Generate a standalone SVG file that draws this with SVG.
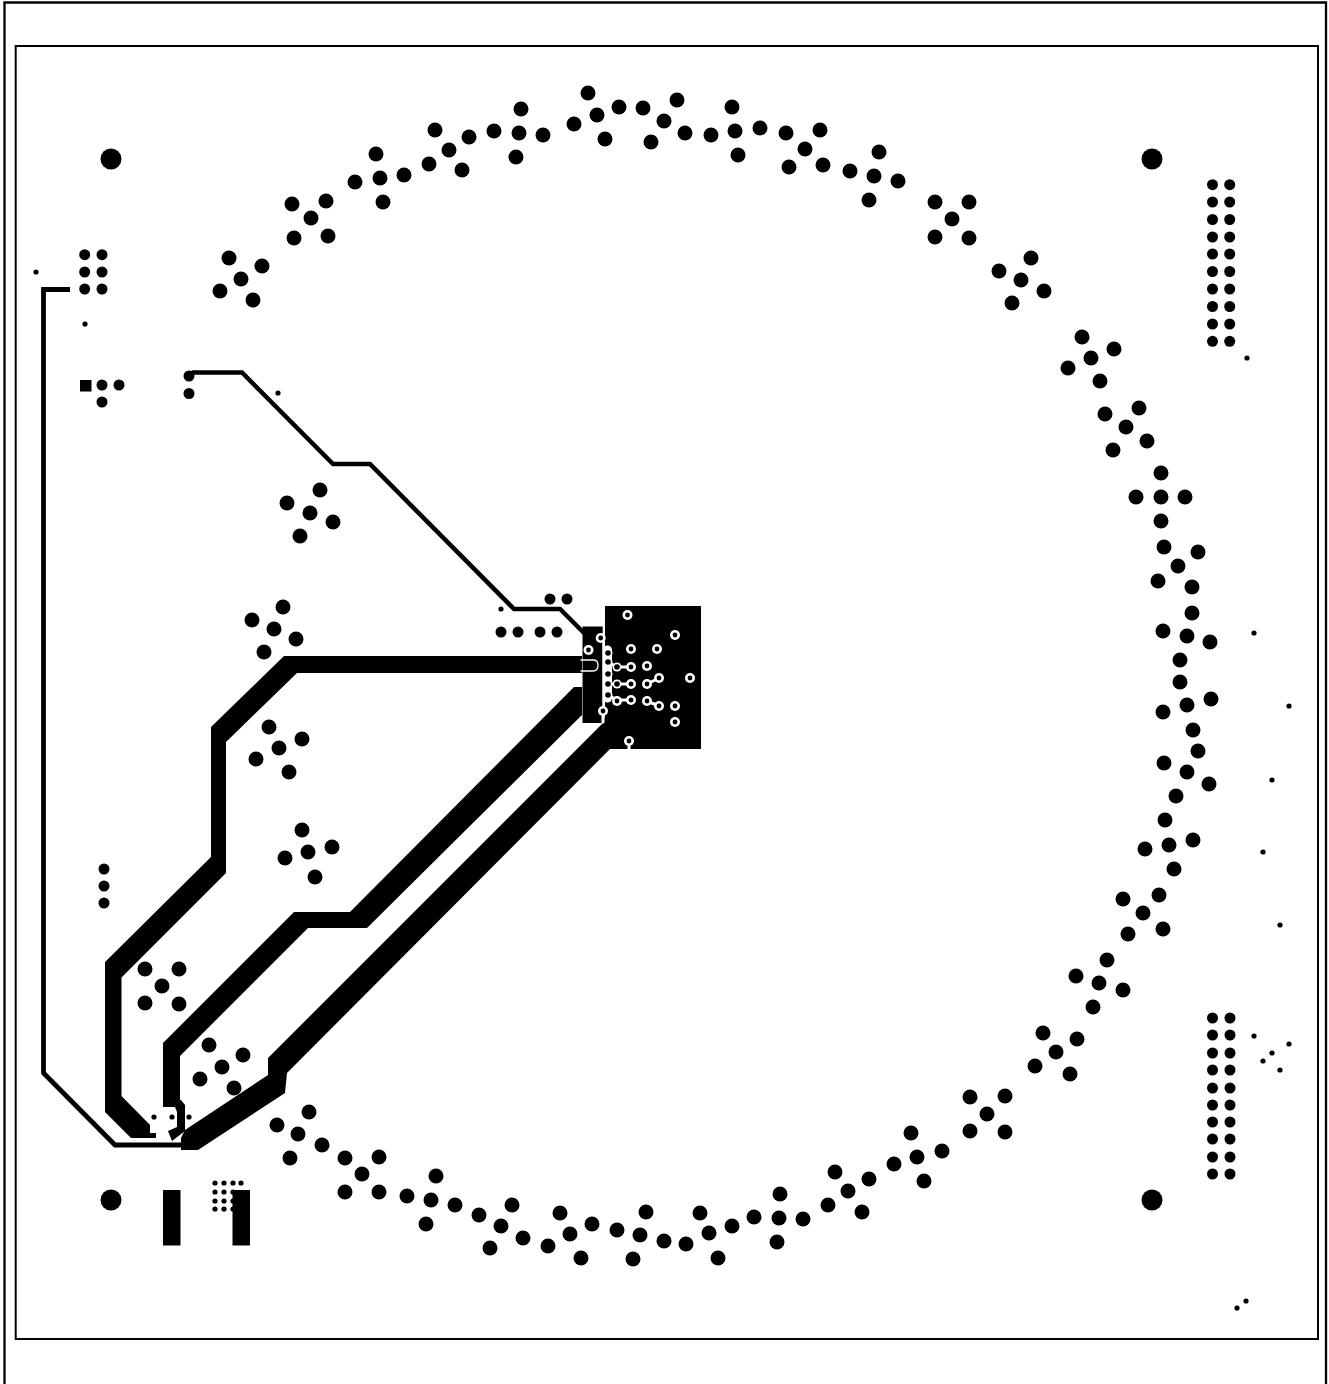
<svg xmlns="http://www.w3.org/2000/svg" width="1329" height="1384" viewBox="0 0 1329 1384">
<style>
.f{stroke:#000;fill:none}
.t{fill:#000;stroke:none}
.wl{stroke:#fff;fill:none;stroke-linecap:round;stroke-linejoin:round}
</style>
<defs>
<circle id="a" r="7.5" fill="#000"/>
<circle id="h" r="5.500" fill="#000"/>
<circle id="s" r="2.600" fill="#000"/>
<g id="v"><circle r="5" fill="#fff"/><circle r="2.400" fill="#000"/></g>
<g id="d"><circle r="4.500" fill="#fff"/><circle r="2.800" fill="#000"/></g>
</defs>
<rect width="1329" height="1384" fill="#fff"/>
<g id="frame">
<path class="f" stroke-width="2.300" d="M4.500 1384V2.500H1326V1384"/>
<rect class="f" stroke-width="2" x="15.700" y="46" width="1302.300" height="1293"/>
</g>
<g id="connectors">
<path class="f" stroke-width="4.800" d="M70 289.500H43.500V1073L115 1145H182"/>
<path class="f" stroke-width="4.500" d="M190 374L193 372.500H242L333 464H370L514 609H560L585 634"/>
<path class="t" d="M582 656H284L211 727V857L105 962V1112L131 1138H156V1133H150V1125L121.500 1096V977.500L226 873V742L297 673H582Z"/>
<path class="t" d="M582 687H574L350 912H294L163 1043V1107H175L177 1112V1127L168 1131L172 1141L185 1131V1105L181 1100H180V1056L308 928H367L582 715Z"/>
<path class="t" d="M605 606H701V749H610L287 1073L285 1093L198 1150H181V1138L185 1130L268 1075V1058L603 723L605 716Z"/>
<path class="t" d="M582.500 626.500H602.700V723H582.500Z"/>
</g>
<g id="pad">
<path class="wl" stroke-width="1.300" d="M603 640V712M581 660H593Q598 660 598 665Q598 671 593 671H581"/>
<path class="wl" stroke-width="9" d="M607.500 650V698"/>
<path class="wl" stroke-width="3" d="M608 662L617 667H631M608 684H631M608 695L617 700H631M647 684L659 678M647 701L659 706M629 741V749M603 711V722"/>
<use href="#v" x="627.500" y="615"/><use href="#v" x="675" y="635"/><use href="#v" x="600.700" y="638"/>
<use href="#v" x="631" y="649"/><use href="#v" x="657" y="649"/><use href="#v" x="588.500" y="650"/>
<use href="#d" x="608" y="653"/><use href="#d" x="608" y="662"/><use href="#d" x="617" y="667"/>
<use href="#v" x="631" y="667"/><use href="#v" x="647" y="666"/><use href="#d" x="608" y="674"/>
<use href="#v" x="659" y="678"/><use href="#v" x="690" y="678"/><use href="#d" x="617" y="684"/>
<use href="#d" x="608" y="684"/><use href="#v" x="631" y="684"/><use href="#v" x="647" y="684"/>
<use href="#d" x="608" y="695"/><use href="#v" x="617" y="701"/><use href="#v" x="631" y="700"/>
<use href="#v" x="647" y="701"/><use href="#v" x="659" y="706"/><use href="#v" x="675" y="706"/>
<use href="#v" x="675" y="722"/><use href="#v" x="603" y="711"/><use href="#v" x="629" y="741"/>
</g>
<g id="ring">
<use href="#a" x="229" y="258"/><use href="#a" x="262" y="266"/><use href="#a" x="241" y="279"/><use href="#a" x="220" y="291"/><use href="#a" x="253" y="300"/>
<use href="#a" x="292" y="204"/><use href="#a" x="326" y="201"/><use href="#a" x="311" y="218"/><use href="#a" x="294" y="238"/><use href="#a" x="328" y="236"/>
<use href="#a" x="355" y="182"/><use href="#a" x="376" y="154"/><use href="#a" x="380" y="178"/><use href="#a" x="404" y="175"/><use href="#a" x="383" y="202"/>
<use href="#a" x="429" y="164"/><use href="#a" x="435" y="130"/><use href="#a" x="449" y="150"/><use href="#a" x="469" y="137"/><use href="#a" x="462" y="170"/>
<use href="#a" x="494" y="131"/><use href="#a" x="521" y="109"/><use href="#a" x="519" y="133"/><use href="#a" x="543" y="135"/><use href="#a" x="516" y="157"/>
<use href="#a" x="574" y="124"/><use href="#a" x="588" y="93"/><use href="#a" x="597" y="115"/><use href="#a" x="619" y="107"/><use href="#a" x="605" y="139"/>
<use href="#a" x="643" y="108"/><use href="#a" x="677" y="100"/><use href="#a" x="664" y="121"/><use href="#a" x="685" y="133"/><use href="#a" x="651" y="142"/>
<use href="#a" x="711" y="135"/><use href="#a" x="732" y="107"/><use href="#a" x="735" y="131"/><use href="#a" x="760" y="128"/><use href="#a" x="738" y="155"/>
<use href="#a" x="786" y="133"/><use href="#a" x="820" y="130"/><use href="#a" x="805" y="149"/><use href="#a" x="823" y="165"/><use href="#a" x="789" y="167"/>
<use href="#a" x="850" y="171"/><use href="#a" x="879" y="152"/><use href="#a" x="874" y="176"/><use href="#a" x="898" y="181"/><use href="#a" x="869" y="200"/>
<use href="#a" x="935" y="202"/><use href="#a" x="969" y="202"/><use href="#a" x="952" y="219"/><use href="#a" x="935" y="237"/><use href="#a" x="969" y="238"/>
<use href="#a" x="999" y="271"/><use href="#a" x="1031" y="258"/><use href="#a" x="1021" y="280"/><use href="#a" x="1044" y="291"/><use href="#a" x="1012" y="303"/>
<use href="#a" x="1082" y="337"/><use href="#a" x="1114" y="349"/><use href="#a" x="1091" y="358"/><use href="#a" x="1068" y="368"/><use href="#a" x="1100" y="381"/>
<use href="#a" x="1105" y="414"/><use href="#a" x="1139" y="408"/><use href="#a" x="1126" y="427"/><use href="#a" x="1113" y="450"/><use href="#a" x="1147" y="441"/>
<use href="#a" x="1136" y="497"/><use href="#a" x="1161" y="473"/><use href="#a" x="1161" y="497"/><use href="#a" x="1185" y="497"/><use href="#a" x="1161" y="521"/>
<use href="#a" x="1164" y="547"/><use href="#a" x="1198" y="552"/><use href="#a" x="1178" y="566"/><use href="#a" x="1158" y="581"/><use href="#a" x="1192" y="587"/>
<use href="#a" x="1192" y="613"/><use href="#a" x="1163" y="631"/><use href="#a" x="1187" y="636"/><use href="#a" x="1210" y="642"/><use href="#a" x="1180" y="660"/>
<use href="#a" x="1180" y="682"/><use href="#a" x="1163" y="712"/><use href="#a" x="1187" y="705"/><use href="#a" x="1211" y="699"/><use href="#a" x="1193" y="730"/>
<use href="#a" x="1198" y="751"/><use href="#a" x="1164" y="763"/><use href="#a" x="1187" y="772"/><use href="#a" x="1209" y="784"/><use href="#a" x="1176" y="796"/>
<use href="#a" x="1165" y="820"/><use href="#a" x="1193" y="840"/><use href="#a" x="1169" y="845"/><use href="#a" x="1145" y="849"/><use href="#a" x="1174" y="869"/>
<use href="#a" x="1159" y="895"/><use href="#a" x="1123" y="899"/><use href="#a" x="1143" y="913"/><use href="#a" x="1128" y="934"/><use href="#a" x="1163" y="929"/>
<use href="#a" x="1107" y="960"/><use href="#a" x="1076" y="976"/><use href="#a" x="1099" y="983"/><use href="#a" x="1123" y="990"/><use href="#a" x="1093" y="1007"/>
<use href="#a" x="1043" y="1033"/><use href="#a" x="1077" y="1039"/><use href="#a" x="1056" y="1052"/><use href="#a" x="1035" y="1066"/><use href="#a" x="1070" y="1074"/>
<use href="#a" x="970" y="1097"/><use href="#a" x="1005" y="1096"/><use href="#a" x="987" y="1114"/><use href="#a" x="970" y="1131"/><use href="#a" x="1005" y="1132"/>
<use href="#a" x="911" y="1133"/><use href="#a" x="894" y="1164"/><use href="#a" x="917" y="1157"/><use href="#a" x="942" y="1151"/><use href="#a" x="924" y="1181"/>
<use href="#a" x="835" y="1172"/><use href="#a" x="869" y="1179"/><use href="#a" x="848" y="1191"/><use href="#a" x="828" y="1205"/><use href="#a" x="862" y="1212"/>
<use href="#a" x="754" y="1217"/><use href="#a" x="780" y="1194"/><use href="#a" x="779" y="1218"/><use href="#a" x="803" y="1219"/><use href="#a" x="777" y="1242"/>
<use href="#a" x="700" y="1213"/><use href="#a" x="732" y="1226"/><use href="#a" x="709" y="1233"/><use href="#a" x="686" y="1244"/><use href="#a" x="718" y="1258"/>
<use href="#a" x="617" y="1230"/><use href="#a" x="646" y="1212"/><use href="#a" x="640" y="1235"/><use href="#a" x="664" y="1241"/><use href="#a" x="633" y="1259"/>
<use href="#a" x="560" y="1213"/><use href="#a" x="592" y="1224"/><use href="#a" x="570" y="1234"/><use href="#a" x="548" y="1246"/><use href="#a" x="581" y="1258"/>
<use href="#a" x="479" y="1215"/><use href="#a" x="512" y="1205"/><use href="#a" x="501" y="1226"/><use href="#a" x="490" y="1248"/><use href="#a" x="523" y="1238"/>
<use href="#a" x="407" y="1196"/><use href="#a" x="436" y="1176"/><use href="#a" x="431" y="1200"/><use href="#a" x="455" y="1205"/><use href="#a" x="426" y="1224"/>
<use href="#a" x="345" y="1158"/><use href="#a" x="379" y="1157"/><use href="#a" x="362" y="1174"/><use href="#a" x="345" y="1192"/><use href="#a" x="379" y="1192"/>
<use href="#a" x="309" y="1112"/><use href="#a" x="277" y="1125"/><use href="#a" x="298" y="1134"/><use href="#a" x="322" y="1145"/><use href="#a" x="290" y="1158"/>
</g>
<g id="inner">
<use href="#a" x="320" y="490"/><use href="#a" x="287" y="503"/><use href="#a" x="310" y="513"/><use href="#a" x="333" y="522"/><use href="#a" x="300" y="536"/>
<use href="#a" x="283" y="607"/><use href="#a" x="252" y="620"/><use href="#a" x="274" y="629"/><use href="#a" x="296" y="639"/><use href="#a" x="264" y="652"/>
<use href="#a" x="269" y="727"/><use href="#a" x="302" y="739"/><use href="#a" x="279" y="748"/><use href="#a" x="256" y="759"/><use href="#a" x="289" y="772"/>
<use href="#a" x="302" y="830"/><use href="#a" x="285" y="858"/><use href="#a" x="308" y="852"/><use href="#a" x="332" y="847"/><use href="#a" x="315" y="877"/>
<use href="#a" x="145" y="969"/><use href="#a" x="179" y="969"/><use href="#a" x="162" y="986"/><use href="#a" x="145" y="1003"/><use href="#a" x="179" y="1004"/>
<use href="#a" x="209" y="1045"/><use href="#a" x="243" y="1055"/><use href="#a" x="222" y="1067"/><use href="#a" x="200" y="1079"/><use href="#a" x="234" y="1088"/>
</g>
<g id="holes">
<circle class="t" cx="111" cy="159" r="10.500"/><circle class="t" cx="1152" cy="159" r="10.500"/>
<circle class="t" cx="1152" cy="1200" r="10.500"/><circle class="t" cx="111" cy="1200" r="10.500"/>
</g>
<g id="header-top">
<use href="#h" x="1212.500" y="184.700"/><use href="#h" x="1229.700" y="184.700"/><use href="#h" x="1212.500" y="202"/><use href="#h" x="1229.700" y="202"/>
<use href="#h" x="1212.500" y="219.500"/><use href="#h" x="1229.700" y="219.500"/><use href="#h" x="1212.500" y="237"/><use href="#h" x="1229.700" y="237"/>
<use href="#h" x="1212.500" y="254"/><use href="#h" x="1229.700" y="254"/><use href="#h" x="1212.500" y="271.500"/><use href="#h" x="1229.700" y="271.500"/>
<use href="#h" x="1212.500" y="289"/><use href="#h" x="1229.700" y="289"/><use href="#h" x="1212.500" y="306.500"/><use href="#h" x="1229.700" y="306.500"/>
<use href="#h" x="1212.500" y="324"/><use href="#h" x="1229.700" y="324"/><use href="#h" x="1212.500" y="341.300"/><use href="#h" x="1229.700" y="341.300"/>
</g>
<g id="header-bottom">
<use href="#h" x="1212.500" y="1018"/><use href="#h" x="1230" y="1018"/><use href="#h" x="1212.500" y="1035"/><use href="#h" x="1230" y="1035"/>
<use href="#h" x="1212.500" y="1053"/><use href="#h" x="1230" y="1053"/><use href="#h" x="1212.500" y="1070"/><use href="#h" x="1230" y="1070"/>
<use href="#h" x="1212.500" y="1088"/><use href="#h" x="1230" y="1088"/><use href="#h" x="1212.500" y="1105"/><use href="#h" x="1230" y="1105"/>
<use href="#h" x="1212.500" y="1122"/><use href="#h" x="1230" y="1122"/><use href="#h" x="1212.500" y="1139"/><use href="#h" x="1230" y="1139"/>
<use href="#h" x="1212.500" y="1157"/><use href="#h" x="1230" y="1157"/><use href="#h" x="1212.500" y="1174"/><use href="#h" x="1230" y="1174"/>
</g>
<g id="left-parts">
<use href="#h" x="84.700" y="254.700"/><use href="#h" x="102" y="254.700"/><use href="#h" x="84.700" y="272"/><use href="#h" x="102" y="272"/><use href="#h" x="84.700" y="289"/><use href="#h" x="102" y="289"/>
<rect class="t" x="80" y="380" width="11.500" height="11.500"/>
<use href="#h" x="102" y="385"/><use href="#h" x="119" y="385"/><use href="#h" x="102" y="402"/>
<use href="#h" x="189" y="376"/><use href="#h" x="189" y="393.500"/>
<use href="#h" x="104" y="869"/><use href="#h" x="104" y="886"/><use href="#h" x="104" y="903"/>
<use href="#h" x="550" y="599"/><use href="#h" x="567" y="599"/>
<use href="#h" x="501" y="632"/><use href="#h" x="518" y="632"/><use href="#h" x="540" y="632"/><use href="#h" x="557" y="632"/>
<rect class="t" x="163" y="1190" width="17.500" height="55.500"/>
<rect class="t" x="232.500" y="1190" width="17.500" height="55.500"/>
</g>
<g id="small-dots">
<use href="#s" x="36" y="272"/><use href="#s" x="85" y="324"/><use href="#s" x="278" y="393"/><use href="#s" x="501" y="609"/><use href="#s" x="1247" y="358"/>
<use href="#s" x="1254" y="633"/><use href="#s" x="1289" y="706"/><use href="#s" x="1272" y="780"/><use href="#s" x="1263" y="852"/><use href="#s" x="1280" y="925"/>
<use href="#s" x="1254" y="1036"/><use href="#s" x="1289" y="1044"/><use href="#s" x="1272" y="1053"/><use href="#s" x="1263" y="1061"/><use href="#s" x="1280" y="1070"/>
<use href="#s" x="1237" y="1308"/><use href="#s" x="1246" y="1301"/>
<use href="#s" x="154" y="1117"/><use href="#s" x="172" y="1117"/><use href="#s" x="189" y="1117"/>
<use href="#s" x="215" y="1183"/><use href="#s" x="224" y="1183"/><use href="#s" x="233" y="1183"/><use href="#s" x="241" y="1183"/>
<use href="#s" x="215" y="1192"/><use href="#s" x="224" y="1192"/><use href="#s" x="233" y="1192"/>
<use href="#s" x="215" y="1201"/><use href="#s" x="224" y="1201"/><use href="#s" x="233" y="1201"/>
<use href="#s" x="215" y="1209"/><use href="#s" x="224" y="1209"/><use href="#s" x="233" y="1209"/>
</g>
</svg>
